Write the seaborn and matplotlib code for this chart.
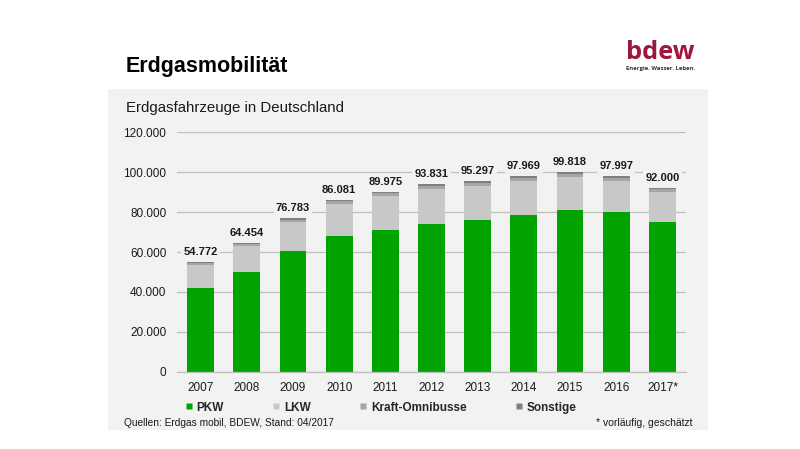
import matplotlib
matplotlib.use('Agg')
import numpy as np
import pandas as pd
import seaborn as sns
import matplotlib.pyplot as plt
from matplotlib.patches import Rectangle
from matplotlib.lines import Line2D
from matplotlib.ticker import FuncFormatter

years = ['2007', '2008', '2009', '2010', '2011', '2012', '2013', '2014', '2015', '2016', '2017*']
totals = [54772, 64454, 76783, 86081, 89975, 93831, 95297, 97969, 99818, 97997, 92000]
pkw = [42200, 50100, 60300, 68100, 71000, 74100, 75800, 78400, 80900, 79800, 74800]
bus = [1000, 1100, 1250, 1350, 1450, 1550, 1600, 1650, 1650, 1600, 1500]
sonstige = [500, 550, 600, 650, 700, 750, 750, 800, 800, 800, 700]
lkw = [t - p - b - s for t, p, b, s in zip(totals, pkw, bus, sonstige)]

series_names = ['PKW', 'LKW', 'Kraft-Omnibusse', 'Sonstige']
colors = ['#00A300', '#C8C8C8', '#A6A6A6', '#7F7F7F']
panel = '#F2F2F2'

df = pd.DataFrame({'Jahr': years, 'PKW': pkw, 'LKW': lkw, 'Bus': bus, 'Sonstige': sonstige})
df['top_sonst'] = df['PKW'] + df['LKW'] + df['Bus'] + df['Sonstige']
df['top_bus'] = df['PKW'] + df['LKW'] + df['Bus']
df['top_lkw'] = df['PKW'] + df['LKW']

sns.set_style('white')
plt.rcParams['font.family'] = ['Liberation Sans', 'DejaVu Sans']

fig = plt.figure(figsize=(8, 4.49), dpi=100, facecolor='white')
fig.patches.append(Rectangle((0.1354, 0.0423), 0.7496, 0.7587, transform=fig.transFigure,
                             facecolor=panel, edgecolor='none', zorder=-5))

ax = fig.add_axes([0.221, 0.1715, 0.6365, 0.5345])
ax.set_facecolor('none')
ax.set_zorder(1)

# stacked bars: draw cumulative heights from the top down
for col, c in zip(['top_sonst', 'top_bus', 'top_lkw', 'PKW'], colors[::-1]):
    sns.barplot(data=df, x='Jahr', y=col, color=c, width=0.58, saturation=1,
                edgecolor='none', linewidth=0, ax=ax, zorder=2)

for i, t in enumerate(totals):
    ax.text(i, t + 5000, f"{t:,}".replace(',', '.'), ha='center', va='center',
            fontsize=8, fontweight='bold', color='#1a1a1a', zorder=3,
            bbox=dict(facecolor=panel, edgecolor='none', pad=1.5))

ax.set_ylim(0, 120000)
ax.set_xlim(-0.515, 10.51)
ax.set_yticks(np.arange(0, 120001, 20000))
ax.yaxis.set_major_formatter(FuncFormatter(lambda v, p: f"{int(v):,}".replace(',', '.')))
ax.grid(axis='y', color='#BFBFBF', linewidth=0.9, zorder=0)
ax.set_axisbelow(True)
for s in ['top', 'right', 'left']:
    ax.spines[s].set_visible(False)
ax.spines['bottom'].set_color('#BFBFBF')
ax.spines['bottom'].set_linewidth(0.9)
ax.tick_params(axis='both', length=0, labelsize=8.5, labelcolor='#1a1a1a')
ax.tick_params(axis='x', pad=7)
ax.tick_params(axis='y', pad=7.5)
ax.set_xlabel('')
ax.set_ylabel('')

handles = [Line2D([0], [0], marker='s', linestyle='none', markersize=4.5,
                  markerfacecolor=c, markeredgecolor='none') for c in colors]
leg = fig.legend(handles, series_names, loc='center left', bbox_to_anchor=(0.232, 0.0924),
                 ncol=4, frameon=False, borderpad=0, borderaxespad=0, handlelength=0.5,
                 handletextpad=0.4, columnspacing=4.2, prop={'size': 8.5, 'weight': 'bold'})

fig.text(0.1575, 0.839, 'Erdgasmobilität', fontsize=15.5, fontweight='bold', va='baseline', color='black')
fig.text(0.1575, 0.7506, 'Erdgasfahrzeuge in Deutschland', fontsize=10.8, va='baseline', color='#1a1a1a')
fig.text(0.155, 0.058, 'Quellen: Erdgas mobil, BDEW, Stand: 04/2017', fontsize=7.3, va='center', color='#1a1a1a')
fig.text(0.866, 0.058, '* vorläufig, geschätzt', fontsize=7.5, va='center', ha='right', color='#1a1a1a')

# logo
fig.text(0.7825, 0.869, 'bdew', fontsize=18.3, fontweight='bold', color='#A0173E',
         family='Open Sans', va='baseline')
fig.text(0.7825, 0.843, 'Energie. Wasser. Leben.', fontsize=4.2, fontweight='bold', color='#333333',
         family='Open Sans', va='baseline')

plt.savefig('out.png', dpi=100)
